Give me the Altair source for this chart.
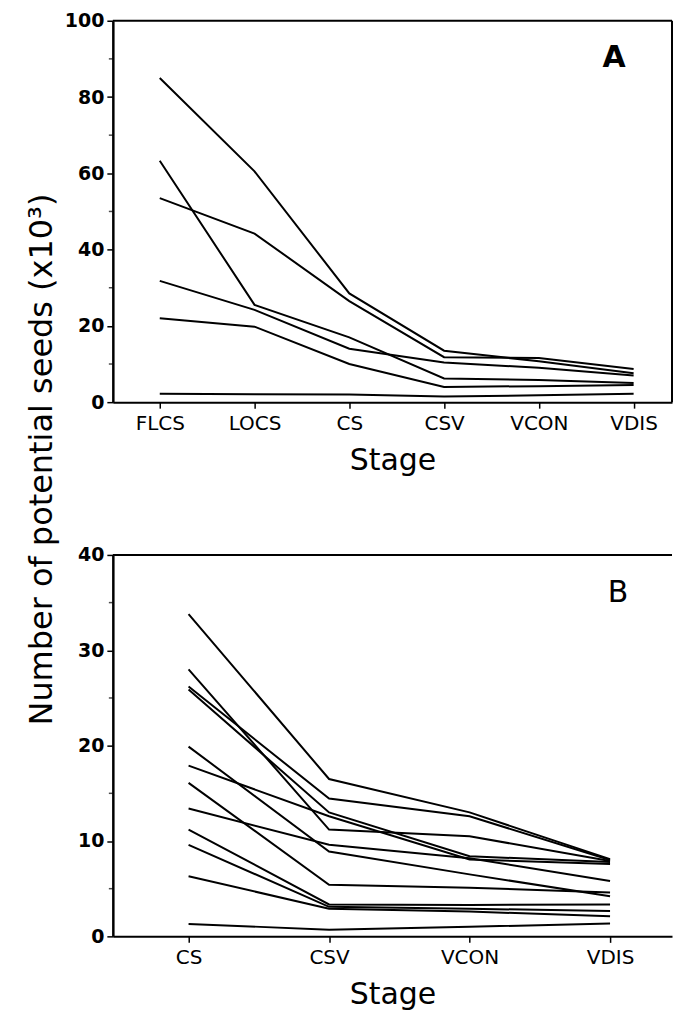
import altair as alt
import pandas as pd

# ---------------- data ----------------
stages_a = ["FLCS", "LOCS", "CS", "CSV", "VCON", "VDIS"]
a1 = [85.0, 60.5, 28.5, 13.5, 10.7, 7.6]
a2 = [63.3, 25.5, 17.0, 6.2, 5.8, 5.0]
a3 = [53.5, 44.2, 26.5, 11.8, 11.6, 8.7]
a4 = [31.8, 24.2, 14.0, 10.4, 9.0, 7.0]
a5 = [22.0, 19.8, 10.0, 4.0, 4.2, 4.5]
a6 = [2.2, 2.1, 2.0, 1.5, 1.8, 2.2]
a_series = [a1, a2, a3, a4, a5, a6]
y_ticks_a = [0, 20, 40, 60, 80, 100]
y_minor_a = [10, 30, 50, 70, 90]

stages_b = ["CS", "CSV", "VCON", "VDIS"]
b1 = [33.8, 16.5, 13.0, 8.1]
b2 = [28.0, 11.2, 10.5, 7.9]
b3 = [26.2, 14.45, 12.6, 8.0]
b4 = [25.9, 13.0, 8.4, 7.8]
b5 = [19.9, 8.9, 6.5, 4.2]
b6 = [17.9, 12.6, 8.06, 7.6]
b7 = [16.1, 5.4, 5.1, 4.6]
b8 = [13.4, 9.6, 8.2, 5.8]
b9 = [11.2, 3.35, 3.3, 3.35]
b10 = [9.6, 3.1, 2.9, 2.65]
b11 = [6.3, 2.9, 2.6, 2.1]
b12 = [1.3, 0.7, 1.0, 1.35]
b_series = [b1, b2, b3, b4, b5, b6, b7, b8, b9, b10, b11, b12]
y_ticks_b = [0, 10, 20, 30, 40]
y_minor_b = [5, 15, 25, 35]

y_title = "Number of potential seeds (x10³)"
x_title = "Stage"


def long_df(stages, series):
    rows = []
    for i, vals in enumerate(series):
        for s, v in zip(stages, vals):
            rows.append({"series": f"s{i+1}", "stage": s, "value": v})
    return pd.DataFrame(rows)


df_a = long_df(stages_a, a_series)
df_b = long_df(stages_b, b_series)
minor_a = pd.DataFrame({"value": y_minor_a})
minor_b = pd.DataFrame({"value": y_minor_b})

FONT = "DejaVu Sans"
W = 560
H = 382


def x_axis():
    return alt.Axis(
        title=x_title, labelAngle=0, labelFont=FONT, labelFontSize=20,
        labelPadding=5, tickSize=6, tickWidth=1.5, domainWidth=2,
        titleFont=FONT, titleFontSize=30, titleFontWeight="normal",
        titlePadding=12, grid=False,
    )


one = pd.DataFrame({"k": [0]})

# ---------------- panel A ----------------
ya_scale = alt.Scale(domain=[0, 100], nice=False)
lines_a = alt.Chart(df_a).mark_line(color="black", strokeWidth=2).encode(
    x=alt.X("stage:N", sort=stages_a,
            scale=alt.Scale(type="point", padding=0.45, align=0.55),
            axis=x_axis()),
    y=alt.Y("value:Q", scale=ya_scale,
            axis=alt.Axis(values=y_ticks_a, title=y_title, titleFont=FONT,
                          titleFontSize=32, titleFontWeight="normal",
                          titleAngle=270, titleX=-54, titleY=439,
                          titleBaseline="bottom", titleAlign="center",
                          labelFont=FONT, labelFontSize=19, labelFontWeight="bold",
                          labelPadding=3, tickSize=6, tickWidth=1.5,
                          domainWidth=2.5, grid=False)),
    detail="series:N",
)
minor_ticks_a = alt.Chart(minor_a).mark_tick(
    orient="horizontal", size=4, thickness=1.5, color="black").encode(
    y=alt.Y("value:Q", scale=ya_scale), x=alt.value(-2))
top_a = alt.Chart(one).mark_rule(color="black", strokeWidth=2).encode(
    x=alt.value(0), x2=alt.value(W), y=alt.value(0))
right_a = alt.Chart(one).mark_rule(color="black", strokeWidth=2).encode(
    x=alt.value(W), y=alt.value(0), y2=alt.value(H))
label_a = alt.Chart(one).mark_text(text="A", font=FONT, fontSize=30,
                                   fontWeight="bold", align="center",
                                   baseline="middle", color="black").encode(
    x=alt.value(502), y=alt.value(37))
panel_a = alt.layer(lines_a, minor_ticks_a, top_a, right_a, label_a).properties(
    width=W, height=H)

# ---------------- panel B ----------------
yb_scale = alt.Scale(domain=[0, 40], nice=False)
lines_b = alt.Chart(df_b).mark_line(color="black", strokeWidth=2).encode(
    x=alt.X("stage:N", sort=stages_b,
            scale=alt.Scale(type="point", padding=0.49, align=0.55),
            axis=x_axis()),
    y=alt.Y("value:Q", scale=yb_scale,
            axis=alt.Axis(values=y_ticks_b, title=None,
                          labelFont=FONT, labelFontSize=19, labelFontWeight="bold",
                          labelPadding=3, tickSize=6, tickWidth=1.5,
                          domainWidth=2.5, grid=False)),
    detail="series:N",
)
minor_ticks_b = alt.Chart(minor_b).mark_tick(
    orient="horizontal", size=4, thickness=1.5, color="black").encode(
    y=alt.Y("value:Q", scale=yb_scale), x=alt.value(-2))
top_b = alt.Chart(one).mark_rule(color="black", strokeWidth=2).encode(
    x=alt.value(0), x2=alt.value(W), y=alt.value(0))
label_b = alt.Chart(one).mark_text(text="B", font=FONT, fontSize=30,
                                   fontWeight="normal", align="center",
                                   baseline="middle", color="black").encode(
    x=alt.value(506), y=alt.value(38))
panel_b = alt.layer(lines_b, minor_ticks_b, top_b, label_b).properties(
    width=W, height=H)

chart = alt.vconcat(panel_a, panel_b, spacing=153).properties(
    bounds="flush",
    padding={"left": 17, "top": 3, "right": 0, "bottom": 0},
).configure_view(stroke=None).configure_axis(
    labelColor="black", tickColor="black", domainColor="black", titleColor="black"
)

chart.save("out.html", embed_options={"renderer": "svg", "actions": False})
